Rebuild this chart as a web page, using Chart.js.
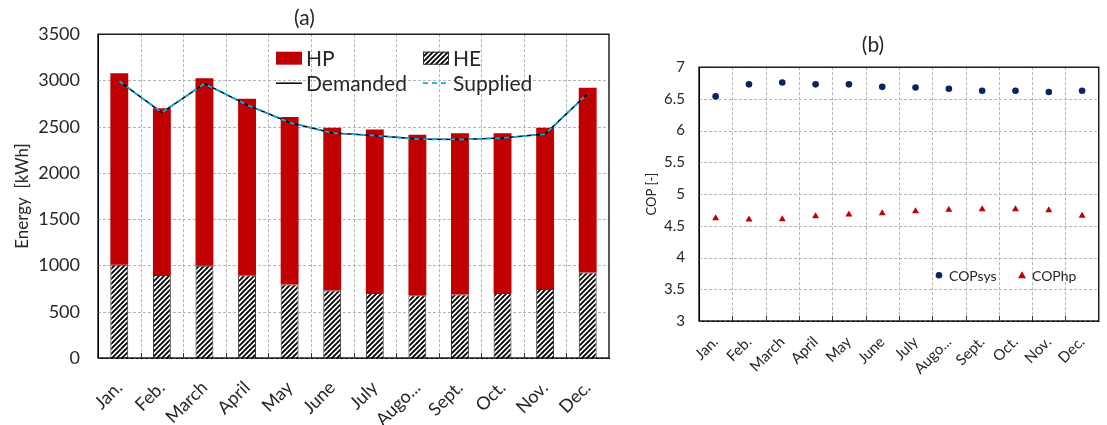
<!DOCTYPE html>
<html><head><meta charset="utf-8">
<script src="https://cdn.jsdelivr.net/npm/chart.js@4.4.1/dist/chart.umd.min.js"></script>
<style>
html,body{margin:0;padding:0;background:#fff;}
#wrap{position:relative;width:1107px;height:425px;overflow:hidden;}
#a{position:absolute;left:0;top:0;width:640px;height:425px;}
#b{position:absolute;left:640px;top:0;width:467px;height:425px;}
</style></head><body>
<div id="wrap"><div id="a"><canvas id="ca"></canvas></div><div id="b"><canvas id="cb"></canvas></div></div>
<script>
// ---- data ----
const months = ['Jan.','Feb.','March','April','May','June','July','Augo...','Sept.','Oct.','Nov.','Dec.'];
const heValues = [1009,897,998,894,794,729,703,679,686,703,747,923];
const hpValues = [2068,1803,2025,1909,1812,1759,1767,1733,1744,1727,1741,1999];
const demanded = [2991,2653,2965,2736,2545,2431,2405,2366,2362,2377,2420,2858];
const supplied = [2991,2653,2965,2736,2545,2431,2405,2366,2362,2377,2420,2858];
const copSys = [6.54,6.73,6.76,6.73,6.73,6.69,6.68,6.66,6.63,6.63,6.61,6.63];
const copHp = [4.62,4.60,4.605,4.65,4.68,4.70,4.73,4.755,4.76,4.76,4.745,4.66];

const FONT = 'Lato, "Open Sans", sans-serif';
const TXT = '#262626';
const GRID = '#b4b4b4';
const CYAN = '#00b0f0';

function hatchPattern(){
  const s = 5;
  const c = document.createElement('canvas'); c.width = s; c.height = s;
  const g = c.getContext('2d');
  g.fillStyle = '#fff'; g.fillRect(0,0,s,s);
  g.strokeStyle = '#000'; g.lineWidth = 1.9;
  g.beginPath();
  g.moveTo(0,s); g.lineTo(s,0);
  g.moveTo(-1,1); g.lineTo(1,-1);
  g.moveTo(s-1,s+1); g.lineTo(s+1,s-1);
  g.stroke();
  return g.createPattern(c,'repeat');
}
const HATCH = hatchPattern();

// dashed grid drawn from the scales' own tick positions
const dashGrid = {
  id:'dashGrid',
  beforeDatasetsDraw(chart){
    const {ctx, chartArea:a, scales} = chart;
    ctx.save();
    ctx.strokeStyle = GRID; ctx.lineWidth = 1; ctx.setLineDash([3,2]);
    const ys = scales.y;
    ys.ticks.forEach(t => {
      const y = Math.round(ys.getPixelForValue(t.value)) + 0.5;
      ctx.beginPath(); ctx.moveTo(a.left, y); ctx.lineTo(a.right, y); ctx.stroke();
    });
    const xs = scales.x;
    const n = xs.ticks.length;
    for (let i = 1; i < n; i++){
      const x = Math.round((xs.getPixelForValue(i-1) + xs.getPixelForValue(i)) / 2) + 0.5;
      ctx.beginPath(); ctx.moveTo(x, a.top); ctx.lineTo(x, a.bottom); ctx.stroke();
    }
    ctx.restore();
  }
};

const frame = {
  id:'frame',
  afterDraw(chart){
    const {ctx, chartArea:a, scales} = chart;
    ctx.save();
    ctx.strokeStyle = '#000'; ctx.lineWidth = 1.3;
    ctx.strokeRect(a.left, a.top, a.right - a.left, a.bottom - a.top);
    const xs = scales.x;
    const n = xs.ticks.length;
    ctx.lineWidth = 1;
    ctx.strokeStyle = '#333';
    for (let i = 1; i < n; i++){
      const x = Math.round((xs.getPixelForValue(i-1) + xs.getPixelForValue(i)) / 2) + 0.5;
      ctx.beginPath(); ctx.moveTo(x, a.bottom); ctx.lineTo(x, a.bottom - 5); ctx.stroke();
    }
    ctx.restore();
  }
};

const legendA = {
  id:'legendA',
  afterDraw(chart){
    const {ctx, chartArea:a} = chart;
    const L = a.left, T = a.top;
    ctx.save();
    ctx.font = '21px ' + FONT; ctx.textBaseline = 'middle'; ctx.fillStyle = TXT;
    const bw = 26, bh = 13;
    const cols = [L + 178, L + 325];
    const rows = [T + 24, T + 49];
    ctx.fillStyle = '#c00000';
    ctx.fillRect(cols[0], rows[0]-bh/2, bw, bh);
    ctx.fillStyle = HATCH;
    ctx.fillRect(cols[1], rows[0]-bh/2, bw, bh);
    ctx.strokeStyle = '#303030'; ctx.lineWidth = 1;
    ctx.strokeRect(cols[1]+0.5, rows[0]-bh/2+0.5, bw-1, bh-1);
    ctx.strokeStyle = '#000'; ctx.lineWidth = 1.5;
    ctx.beginPath(); ctx.moveTo(cols[0], rows[1]); ctx.lineTo(cols[0]+bw, rows[1]); ctx.stroke();
    ctx.strokeStyle = CYAN; ctx.lineWidth = 1.8; ctx.setLineDash([5,4]);
    ctx.beginPath(); ctx.moveTo(cols[1], rows[1]); ctx.lineTo(cols[1]+bw, rows[1]); ctx.stroke();
    ctx.setLineDash([]);
    ctx.fillStyle = TXT;
    const ds = chart.data.datasets;
    ctx.fillText(ds[1].label, cols[0]+bw+4, rows[0]+1);
    ctx.fillText(ds[0].label, cols[1]+bw+4, rows[0]+1);
    ctx.fillText(ds[2].label, cols[0]+bw+4, rows[1]+1);
    ctx.fillText(ds[3].label, cols[1]+bw+4, rows[1]+1);
    ctx.restore();
  }
};

const legendB = {
  id:'legendB',
  afterDraw(chart){
    const {ctx, chartArea:a} = chart;
    const L = a.left, T = a.top;
    const y = T + 208;
    ctx.save();
    ctx.font = '14px ' + FONT; ctx.textBaseline = 'middle';
    ctx.fillStyle = '#0b2460';
    ctx.beginPath(); ctx.arc(L+240, y, 3.3, 0, Math.PI*2); ctx.fill();
    ctx.fillStyle = '#c00000';
    ctx.beginPath(); ctx.moveTo(L+323, y-4); ctx.lineTo(L+327, y+3); ctx.lineTo(L+319, y+3); ctx.closePath(); ctx.fill();
    ctx.fillStyle = TXT;
    const ds = chart.data.datasets;
    ctx.fillText(ds[0].label, L+250, y+1);
    ctx.fillText(ds[1].label, L+333, y+1);
    ctx.restore();
  }
};

const plain = v => String(v);

new Chart(document.getElementById('ca'), {
  type:'bar',
  data:{
    labels: months,
    datasets:[
      {label:'HE', data: heValues, backgroundColor: HATCH, borderColor:'#303030', borderWidth:1, stack:'bars', order:2},
      {label:'HP', data: hpValues, backgroundColor:'#c00000', borderColor:'#c00000', borderWidth:0, stack:'bars', order:2},
      {type:'line', label:'Demanded', data: demanded, borderColor:'#000', borderWidth:1.5, pointRadius:0, tension:0, stack:'dem', order:1},
      {type:'line', label:'Supplied', data: supplied, borderColor:CYAN, borderWidth:1.8, borderDash:[5,4], pointRadius:0, tension:0, stack:'sup', order:0}
    ]
  },
  options:{
    responsive:true, maintainAspectRatio:false, animation:false,
    layout:{padding:{left:0,right:31,top:0,bottom:0}},
    datasets:{bar:{categoryPercentage:1, barPercentage:0.42}},
    plugins:{
      legend:{display:false}, tooltip:{enabled:false},
      title:{display:true, text:'(a)', color:TXT, font:{family:FONT, size:21, weight:'normal'}, padding:{top:6,bottom:3}}
    },
    scales:{
      x:{stacked:true, offset:true,
        grid:{display:false, drawTicks:false, offset:true},
        border:{display:true, color:'#000'},
        ticks:{color:TXT, font:{family:FONT, size:18}, maxRotation:45, minRotation:45, padding:19, autoSkip:false},
        afterFit(s){ s.height = 67; }
      },
      y:{stacked:true, min:0, max:3500,
        grid:{display:false, drawTicks:false},
        border:{display:true, color:'#000'},
        ticks:{stepSize:500, color:TXT, font:{family:FONT, size:18}, padding:18, callback: plain},
        title:{display:true, text:'Energy  [kWh]', color:TXT, font:{family:FONT, size:17}, padding:{top:12,bottom:0}},
        afterFit(s){ s.width = 98; }
      }
    }
  },
  plugins:[dashGrid, frame, legendA]
});

new Chart(document.getElementById('cb'), {
  type:'line',
  data:{
    labels: months,
    datasets:[
      {label:'COPsys', data: copSys, showLine:false, pointStyle:'circle', pointRadius:3.3, backgroundColor:'#0b2460', borderColor:'#0b2460', borderWidth:0},
      {label:'COPhp', data: copHp, showLine:false, pointStyle:'triangle', pointRadius:4, backgroundColor:'#c00000', borderColor:'#c00000', borderWidth:0}
    ]
  },
  options:{
    responsive:true, maintainAspectRatio:false, animation:false,
    layout:{padding:{left:0,right:1,top:0,bottom:0}},
    plugins:{
      legend:{display:false}, tooltip:{enabled:false},
      title:{display:true, text:'(b)', color:TXT, font:{family:FONT, size:21, weight:'normal'}, padding:{top:33,bottom:9}}
    },
    scales:{
      x:{offset:true,
        grid:{display:false, drawTicks:false, offset:true},
        border:{display:true, color:'#000'},
        ticks:{color:TXT, font:{family:FONT, size:15}, maxRotation:45, minRotation:45, padding:12, autoSkip:false},
        afterFit(s){ s.height = 104; }
      },
      y:{min:3, max:7,
        grid:{display:false, drawTicks:false},
        border:{display:true, color:'#000'},
        ticks:{stepSize:0.5, color:TXT, font:{family:FONT, size:15}, padding:14, callback: plain},
        title:{display:true, text:'COP [-]', color:TXT, font:{family:FONT, size:13}, padding:{top:4,bottom:0}},
        afterFit(s){ s.width = 59; }
      }
    }
  },
  plugins:[dashGrid, frame, legendB]
});
</script>
</body></html>
